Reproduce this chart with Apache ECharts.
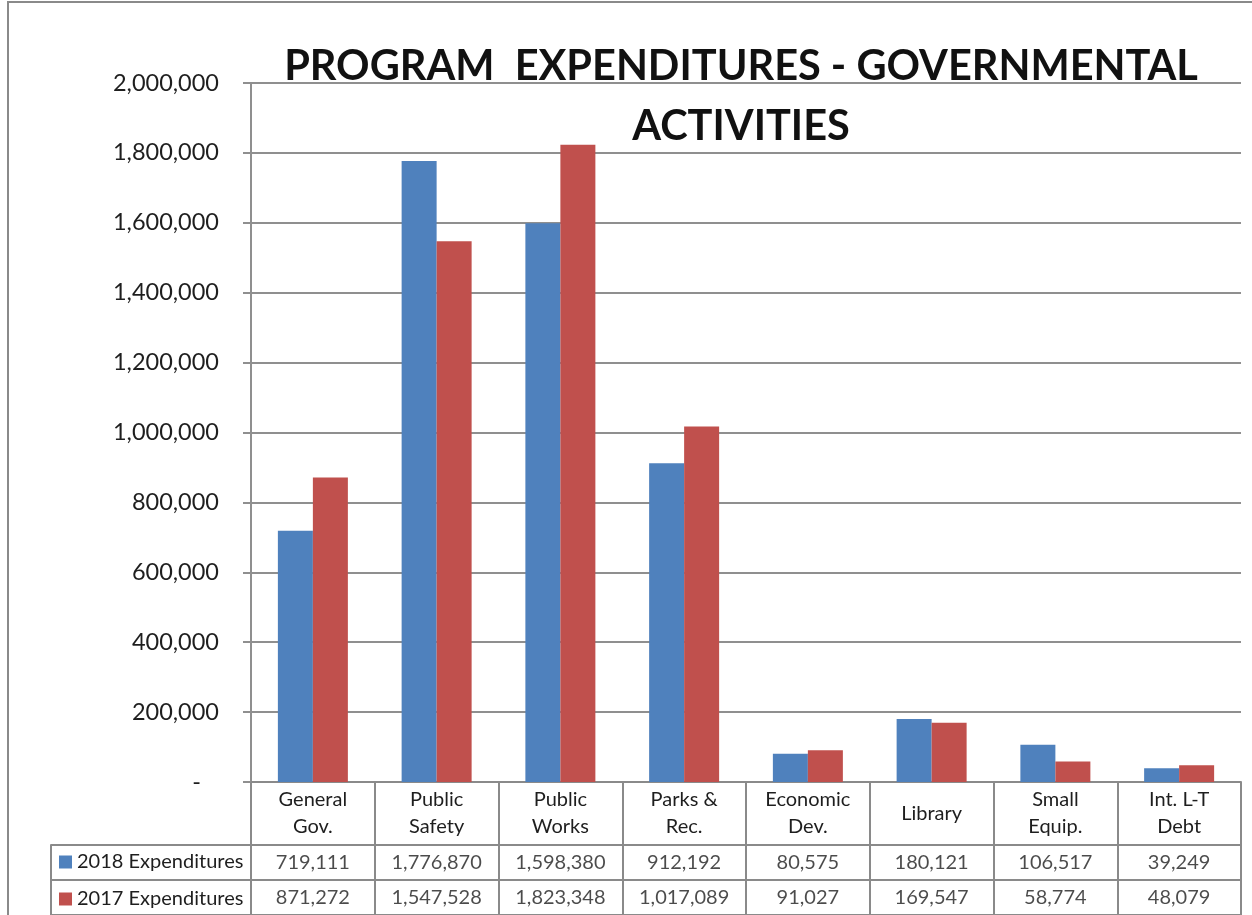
<!DOCTYPE html>
<html>
<head>
<meta charset="utf-8">
<script src="https://cdn.jsdelivr.net/npm/echarts@6/dist/echarts.min.js"></script>
<style>
html,body{margin:0;padding:0;background:#fff;}
#frame{position:absolute;left:7px;top:1px;width:1300px;height:1000px;border-left:2px solid #8a8a8a;border-top:2px solid #8a8a8a;box-sizing:border-box;}
#chart{position:absolute;left:0;top:0;width:1252px;height:915px;}
</style>
</head>
<body>
<div id="frame"></div>
<div id="chart"></div>
<script>
const categories = ['General\nGov.', 'Public\nSafety', 'Public\nWorks', 'Parks &\nRec.', 'Economic\nDev.', 'Library', 'Small\nEquip.', 'Int. L-T\nDebt'];
const seriesNames = ['2018 Expenditures', '2017 Expenditures'];
const exp2018 = [719111, 1776870, 1598380, 912192, 80575, 180121, 106517, 39249];
const exp2017 = [871272, 1547528, 1823348, 1017089, 91027, 169547, 58774, 48079];
const yTicks = { min: 0, max: 2000000, interval: 200000 };

const FONT = 'Lato';
const TXT = '#1e1e1e';
const GRID_COLOR = '#8f8f8f';
const TABLE_COLOR = '#8a8a8a';
const fmt = v => v.toLocaleString('en-US');

const tableData = [];
[exp2018, exp2017].forEach((arr, r) => arr.forEach((v, c) => tableData.push([c, r, v])));

const legendBase = {
  orient: 'vertical', left: 59,
  itemWidth: 13, itemHeight: 13, icon: 'rect',
  textStyle: { fontFamily: FONT, fontSize: 20, color: TXT },
  selectedMode: false, padding: 0
};

const chart = echarts.init(document.getElementById('chart'), null, { renderer: 'canvas' });
chart.setOption({
  animation: false,
  textStyle: { fontFamily: FONT },
  title: {
    text: 'PROGRAM  EXPENDITURES - GOVERNMENTAL\nACTIVITIES',
    left: 736, top: 32, textAlign: 'center',
    textStyle: { fontFamily: FONT, fontSize: 41.5, fontWeight: 'bold', color: '#111', lineHeight: 60 }
  },
  legend: [
    Object.assign({}, legendBase, { data: [seriesNames[0]], top: 852 }),
    Object.assign({}, legendBase, { data: [seriesNames[1]], top: 889 })
  ],
  grid: [
    { left: 251, right: 11, top: 83, bottom: 133 },
    { left: 251, right: 11, top: 845, height: 74 },
    { left: 51, width: 200, top: 845, height: 74 }
  ],
  xAxis: [
    {
      gridIndex: 0, type: 'category', data: categories,
      axisLine: { lineStyle: { color: TABLE_COLOR, width: 2 } },
      axisTick: { show: true, length: 63, lineStyle: { color: TABLE_COLOR, width: 2 } },
      axisLabel: { margin: 31.5, verticalAlign: 'middle', fontFamily: FONT, fontSize: 20, color: TXT, lineHeight: 27, interval: 0 },
      splitLine: { show: false }
    },
    {
      gridIndex: 1, type: 'category', data: categories, position: 'top',
      axisLine: { show: true, lineStyle: { color: TABLE_COLOR, width: 2 } },
      axisTick: { show: false }, axisLabel: { show: false },
      splitLine: { show: true, interval: 0, lineStyle: { color: TABLE_COLOR, width: 2 } }
    },
    {
      gridIndex: 2, type: 'value', show: false
    }
  ],
  yAxis: [
    {
      gridIndex: 0, type: 'value', min: yTicks.min, max: yTicks.max, interval: yTicks.interval,
      axisLine: { show: true, lineStyle: { color: GRID_COLOR, width: 2 } },
      axisTick: { show: true, length: 8, lineStyle: { color: GRID_COLOR, width: 2 } },
      axisLabel: { margin: 32, fontFamily: FONT, fontSize: 23.5, color: TXT, formatter: v => v === 0 ? '-   ' : fmt(v) },
      splitLine: { lineStyle: { color: GRID_COLOR, width: 2 } }
    },
    {
      gridIndex: 1, type: 'category', data: seriesNames, inverse: true,
      axisLine: { show: true, lineStyle: { color: TABLE_COLOR, width: 2 } },
      axisTick: { show: false }, axisLabel: { show: false },
      splitLine: { show: true, interval: 0, lineStyle: { color: TABLE_COLOR, width: 2 } }
    },
    {
      gridIndex: 2, type: 'category', data: seriesNames, inverse: true,
      axisLine: { show: true, lineStyle: { color: TABLE_COLOR, width: 2 } },
      axisTick: { show: false }, axisLabel: { show: false },
      splitLine: { show: true, interval: 0, lineStyle: { color: TABLE_COLOR, width: 2 } }
    }
  ],
  series: [
    { name: seriesNames[0], type: 'bar', xAxisIndex: 0, yAxisIndex: 0, data: exp2018, barWidth: 35, barGap: '0%', itemStyle: { color: '#4F81BD' } },
    { name: seriesNames[1], type: 'bar', xAxisIndex: 0, yAxisIndex: 0, data: exp2017, barWidth: 35, barGap: '0%', itemStyle: { color: '#C0504D' } },
    {
      type: 'scatter', xAxisIndex: 1, yAxisIndex: 1, data: tableData, symbolSize: 0, silent: true,
      label: { show: true, position: 'inside', formatter: p => fmt(p.value[2]), fontFamily: FONT, fontSize: 20, color: TXT }
    }
  ]
});
</script>
</body>
</html>
